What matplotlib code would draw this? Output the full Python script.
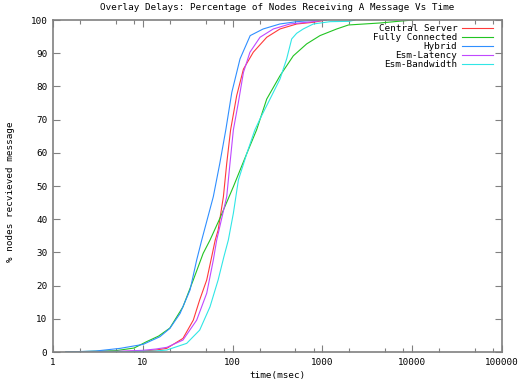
import matplotlib
matplotlib.use("Agg")
import matplotlib.pyplot as plt
from matplotlib.ticker import LogLocator, FixedLocator, NullFormatter

# ---- data ----
central_t = [1.4, 5, 10, 14, 18.5, 28, 36.5, 43, 51.5, 58.5, 64, 69, 79, 86, 95, 111, 132, 170, 240, 337, 517, 786, 1100]
central_p = [0, 0.1, 0.3, 0.6, 1.1, 4.1, 9.6, 15.7, 21.7, 28.7, 33.7, 36.7, 46.8, 56.8, 66.9, 77.2, 85.2, 90.3, 94.8, 97.3, 98.8, 99.3, 100]

full_t = [1.4, 5, 8, 11, 15, 20, 28, 36.5, 47, 56, 72, 102, 144, 185, 240, 337, 474, 668, 940, 1443, 1950, 4370, 10200]
full_p = [0, 0.4, 1.2, 3.1, 4.8, 7.2, 13.6, 21.7, 29.7, 33.7, 40.2, 49.8, 59.8, 66.9, 76.2, 83.2, 89.2, 92.8, 95.3, 97.3, 98.5, 99.1, 100]

hybrid_t = [1.4, 3, 5.6, 10.1, 15.5, 20, 26, 33.6, 39.8, 45.3, 61, 72, 84, 98, 121, 157, 219, 336, 517, 900]
hybrid_p = [0, 0.3, 1.1, 2.3, 4.6, 7.1, 11.6, 18.7, 27.7, 33.7, 46.8, 56.8, 66.9, 78.2, 88.3, 95.3, 97.3, 98.8, 99.5, 100]

lat_t = [1.4, 5, 10, 14, 18.5, 28, 39.8, 51.5, 61, 66.5, 86, 93.5, 102, 116, 132, 156, 202, 284, 436, 786, 1100]
lat_p = [0, 0.2, 0.5, 0.9, 1.4, 3.6, 9.6, 17.7, 27.7, 33.7, 46.8, 56.8, 66.9, 75.2, 84.2, 90.3, 94.8, 97.3, 98.8, 99.5, 100]

bw_t = [1.4, 5, 10, 14, 18.5, 30.8, 43, 56, 69, 80, 89.6, 102, 116, 144, 177, 202, 261, 337, 400, 455, 517, 612, 792, 1215, 2000, 2300]
bw_p = [0, 0.05, 0.2, 0.3, 0.6, 2.6, 6.6, 13.6, 21.7, 28.7, 33.7, 41.8, 51.8, 59.8, 66.9, 70.2, 76.2, 82.2, 88.3, 94.3, 96.0, 97.3, 98.8, 99.5, 99.6, 100]

labels = ["Central Server", "Fully Connected", "Hybrid", "Esm-Latency", "Esm-Bandwidth"]
colors = ["#ff3a3a", "#22c422", "#2f8fff", "#c048ff", "#30e6e6"]

x_ticks = [1, 10, 100, 1000, 10000, 100000]
x_ticklabels = ["1", "10", "100", "1000", "10000", "100000"]
y_ticks = list(range(0, 101, 10))

# ---- figure ----
W, H = 524, 381
fig = plt.figure(figsize=(W / 100, H / 100), dpi=100)
ax = fig.add_axes([53 / W, 1 - 352 / H, (502 - 53) / W, (352 - 20) / H])

font = dict(family="DejaVu Sans Mono", size=6.7)

series = [(central_t, central_p), (full_t, full_p), (hybrid_t, hybrid_p), (lat_t, lat_p), (bw_t, bw_p)]
for (t, p), lab, c in zip(series, labels, colors):
    ax.plot(t, p, color=c, lw=0.8, label=lab)

ax.set_xscale("log")
ax.set_xlim(1, 100000)
ax.set_ylim(0, 100)
ax.xaxis.set_major_locator(FixedLocator(x_ticks))
ax.set_xticklabels(x_ticklabels, fontdict=font)
ax.xaxis.set_minor_locator(LogLocator(base=10, subs=[2, 5, 8]))
ax.xaxis.set_minor_formatter(NullFormatter())
ax.set_yticks(y_ticks)
ax.set_yticklabels([str(v) for v in y_ticks], fontdict=font)

for s in ax.spines.values():
    s.set_color("#808080")
    s.set_linewidth(1.2)
ax.tick_params(which="major", direction="in", length=5, width=0.8, color="#808080",
               top=True, right=True, pad=4)
ax.tick_params(which="minor", direction="in", length=3, width=0.8, color="#808080",
               top=True, right=True)

ax.set_title("Overlay Delays: Percentage of Nodes Receiving A Message Vs Time",
             fontdict=font, pad=7)
ax.set_xlabel("time(msec)", fontdict=font, labelpad=3)
ax.set_ylabel("% nodes recvieved message", fontdict=font)
ax.yaxis.set_label_coords((15 - 53) / (502 - 53), (352 - 192) / (352 - 20))

leg = ax.legend(loc="upper right", bbox_to_anchor=(0.995, 1.008), frameon=False,
                prop=dict(family="DejaVu Sans Mono", size=6.7), markerfirst=False,
                handlelength=3.4, handletextpad=0.45, labelspacing=0.0, borderpad=0.2)
for txt in leg.get_texts():
    txt.set_ha("right")
leg._legend_box.align = "right"

fig.savefig("out.png", dpi=100)
